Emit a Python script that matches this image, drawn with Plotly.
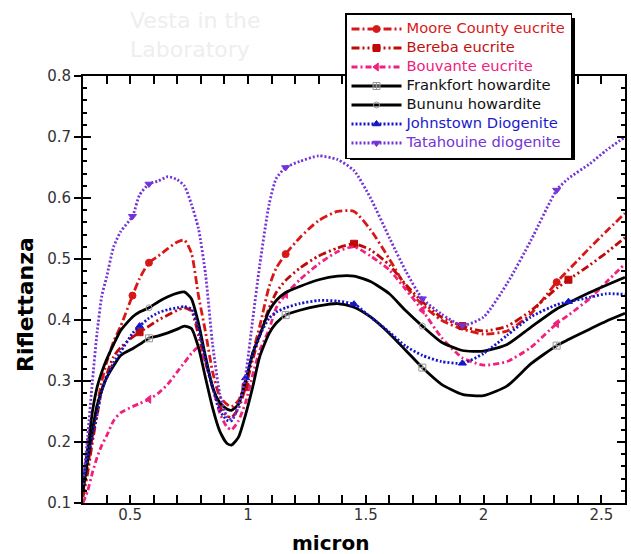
import plotly.graph_objects as go

# ---------------- data ----------------
wavelength = [0.30, 0.32, 0.34, 0.36, 0.38, 0.40, 0.43, 0.46, 0.51, 0.54, 0.58, 0.62,
              0.66, 0.70, 0.73, 0.76, 0.79, 0.82, 0.85, 0.88, 0.91, 0.93, 0.96, 0.99,
              1.02, 1.05, 1.09, 1.12, 1.16, 1.22, 1.30, 1.38, 1.45, 1.52, 1.60, 1.67,
              1.74, 1.82, 1.91, 2.00, 2.10, 2.20, 2.31, 2.36, 2.45, 2.52, 2.60]

moore_county = [0.12, 0.16, 0.21, 0.26, 0.30, 0.33, 0.365, 0.39, 0.44, 0.468, 0.494, 0.505,
                0.517, 0.528, 0.531, 0.51, 0.44, 0.38, 0.315, 0.275, 0.262, 0.258, 0.268, 0.30,
                0.345, 0.39, 0.455, 0.485, 0.508, 0.535, 0.563, 0.578, 0.578, 0.548, 0.50, 0.455,
                0.425, 0.40, 0.385, 0.377, 0.382, 0.41, 0.462, 0.482, 0.518, 0.545, 0.575]

bereba = [0.11, 0.15, 0.20, 0.245, 0.285, 0.31, 0.34, 0.355, 0.372, 0.38, 0.39, 0.40,
          0.408, 0.416, 0.42, 0.415, 0.375, 0.33, 0.29, 0.258, 0.243, 0.24, 0.255, 0.29,
          0.335, 0.375, 0.42, 0.445, 0.465, 0.485, 0.505, 0.518, 0.525, 0.515, 0.49, 0.458,
          0.43, 0.405, 0.39, 0.382, 0.39, 0.415, 0.452, 0.466, 0.49, 0.51, 0.535]

bouvante = [0.10, 0.12, 0.15, 0.175, 0.195, 0.21, 0.235, 0.248, 0.258, 0.263, 0.27, 0.28,
            0.295, 0.315, 0.33, 0.345, 0.355, 0.33, 0.29, 0.248, 0.225, 0.22, 0.235, 0.265,
            0.31, 0.35, 0.385, 0.42, 0.442, 0.466, 0.492, 0.512, 0.52, 0.505, 0.482, 0.45,
            0.416, 0.372, 0.338, 0.326, 0.332, 0.355, 0.394, 0.408, 0.435, 0.462, 0.492]

frankfort = [0.12, 0.17, 0.22, 0.26, 0.285, 0.305, 0.325, 0.342, 0.353, 0.36, 0.37, 0.374,
             0.379, 0.385, 0.39, 0.386, 0.355, 0.305, 0.256, 0.218, 0.198, 0.195, 0.208, 0.245,
             0.29, 0.34, 0.378, 0.395, 0.408, 0.416, 0.423, 0.427, 0.421, 0.405, 0.378, 0.35,
             0.322, 0.295, 0.278, 0.276, 0.292, 0.328, 0.358, 0.368, 0.385, 0.398, 0.411]

bununu = [0.13, 0.19, 0.25, 0.29, 0.315, 0.335, 0.36, 0.383, 0.405, 0.413, 0.42, 0.43,
          0.438, 0.444, 0.446, 0.435, 0.395, 0.34, 0.29, 0.265, 0.254, 0.252, 0.262, 0.30,
          0.345, 0.375, 0.415, 0.432, 0.445, 0.455, 0.466, 0.472, 0.472, 0.463, 0.443, 0.415,
          0.39, 0.364, 0.35, 0.349, 0.36, 0.388, 0.418, 0.428, 0.445, 0.457, 0.47]

johnstown = [0.14, 0.175, 0.21, 0.245, 0.285, 0.305, 0.33, 0.348, 0.378, 0.39, 0.403, 0.412,
             0.417, 0.42, 0.422, 0.418, 0.385, 0.335, 0.29, 0.252, 0.236, 0.235, 0.26, 0.305,
             0.345, 0.375, 0.403, 0.413, 0.42, 0.427, 0.432, 0.431, 0.426, 0.405, 0.38, 0.357,
             0.342, 0.332, 0.329, 0.345, 0.375, 0.405, 0.425, 0.43, 0.437, 0.443, 0.442]

tatahouine = [0.13, 0.21, 0.30, 0.38, 0.44, 0.47, 0.52, 0.545, 0.57, 0.605, 0.623, 0.628,
              0.635, 0.63, 0.62, 0.59, 0.55, 0.475, 0.36, 0.28, 0.242, 0.237, 0.258, 0.31,
              0.40, 0.49, 0.59, 0.632, 0.65, 0.66, 0.669, 0.663, 0.645, 0.60, 0.535, 0.48,
              0.435, 0.41, 0.391, 0.405, 0.46, 0.53, 0.613, 0.632, 0.656, 0.678, 0.70]

# wavelengths at which each curve shows a marker symbol
moore_marks = [0.51, 0.58, 1.16, 2.31]
bereba_marks = [0.54, 0.99, 1.45, 1.91, 2.36]
bouvante_marks = [0.58, 1.16, 1.74, 2.31]
frankfort_marks = [0.58, 1.16, 1.74, 2.31]
bununu_marks = [0.58, 1.74]
johnstown_marks = [0.54, 0.99, 1.45, 1.91, 2.36]
tatahouine_marks = [0.51, 0.58, 1.16, 1.74, 1.91, 2.31]

series_names = ["Moore County eucrite", "Bereba eucrite", "Bouvante eucrite",
                "Frankfort howardite", "Bununu howardite", "Johnstown Diogenite",
                "Tatahouine diogenite"]

# ---------------- styles ----------------
styles = [
    dict(vals=moore_county, marks=moore_marks, color="#d81818", dash="8px,3px,2px,3px",
         symbol="circle", msize=7, mcolor="#d81818", text="#d81818"),
    dict(vals=bereba, marks=bereba_marks, color="#c00a0a", dash="8px,3px,2px,3px,2px,3px",
         symbol="square", msize=7, mcolor="#c00a0a", text="#c01010"),
    dict(vals=bouvante, marks=bouvante_marks, color="#f0207f", dash="6px,3px,2px,3px",
         symbol="triangle-left", msize=7, mcolor="#f0207f", text="#f0207f"),
    dict(vals=frankfort, marks=frankfort_marks, color="#000000", dash="solid",
         symbol="square-cross-open", msize=7, mcolor="#999999", text="#111111"),
    dict(vals=bununu, marks=bununu_marks, color="#000000", dash="solid",
         symbol="circle-open", msize=6, mcolor="#999999", text="#111111"),
    dict(vals=johnstown, marks=johnstown_marks, color="#1515c8", dash="2px,2px",
         symbol="triangle-up", msize=7, mcolor="#1515c8", text="#1a1acc"),
    dict(vals=tatahouine, marks=tatahouine_marks, color="#7333d6", dash="2px,2px",
         symbol="triangle-down", msize=7, mcolor="#7333d6", text="#7333d6"),
]

fig = go.Figure()
for name, st in zip(series_names, styles):
    sel = [wavelength.index(w) for w in st["marks"]]
    fig.add_trace(go.Scatter(
        x=wavelength, y=st["vals"], mode="lines+markers",
        name=f"<span style='color:{st['text']};font-size:14.7px'>{name}</span>",
        line=dict(color=st["color"], width=2.8, dash=st["dash"], shape="spline", smoothing=0.6),
        marker=dict(symbol=st["symbol"], size=st["msize"], color=st["mcolor"],
                    line=dict(color=st["mcolor"], width=1)),
        selectedpoints=sel,
        selected=dict(marker=dict(opacity=1)),
        unselected=dict(marker=dict(opacity=0)),
        hoverinfo="skip",
    ))

# dummy trace carrying the overlay y-axis (outside tick halves + labels)
fig.add_trace(go.Scatter(x=[None], y=[None], yaxis="y2", showlegend=False, hoverinfo="skip"))

L, R, T, B = 83, 6, 76, 51
W, H = 631, 554
pw, ph = W - L - R, H - T - B

def px(xp):
    return (xp - L) / pw

def py(yp):
    return (H - B - yp) / ph

tickfont = dict(family="DejaVu Sans", size=15, color="#333333")

fig.update_layout(
    width=W, height=H,
    margin=dict(l=L, r=R, t=T, b=B, autoexpand=False),
    paper_bgcolor="white", plot_bgcolor="white",
    showlegend=True,
    xaxis=dict(range=[0.3, 2.6], tickmode="linear", tick0=0.5, dtick=0.5,
               ticks="inside", ticklen=8, tickwidth=2, tickcolor="black",
               showline=True, linewidth=2, linecolor="black", mirror="allticks",
               minor=dict(dtick=0.1, ticks="inside", ticklen=4, tickwidth=1.5, tickcolor="black"),
               showgrid=False, zeroline=False, tickfont=tickfont, ticklabelstandoff=-3),
    yaxis=dict(range=[0.1, 0.8], tickmode="linear", tick0=0.1, dtick=0.1,
               ticks="inside", ticklen=8, tickwidth=2, tickcolor="black",
               showline=True, linewidth=2, linecolor="black", mirror="allticks",
               minor=dict(dtick=0.02, ticks="inside", ticklen=4, tickwidth=1.5, tickcolor="black"),
               showticklabels=False, showgrid=False, zeroline=False),
    yaxis2=dict(range=[0.1, 0.8], overlaying="y", side="left", tickmode="linear",
                tick0=0.1, dtick=0.1, ticks="outside", ticklen=8, tickwidth=2,
                tickcolor="black", showline=False, showgrid=False, zeroline=False,
                tickfont=tickfont),
    legend=dict(x=px(345), y=py(13), xanchor="left", yanchor="top",
                bgcolor="white", bordercolor="black", borderwidth=1.5,
                font=dict(family="DejaVu Sans", size=11, color="black"),
                itemwidth=50, tracegroupgap=0),
    shapes=[dict(type="rect", xref="paper", yref="paper",
                 x0=px(350), x1=px(575), y0=py(160), y1=py(18),
                 fillcolor="black", line=dict(width=0), layer="above")],
    annotations=[
        dict(text="<b>Riflettanza</b>", xref="paper", yref="paper", x=px(25), y=py(305),
             xanchor="center", yanchor="middle",
             textangle=-90, showarrow=False, font=dict(family="DejaVu Sans", size=22, color="black")),
        dict(text="<b>micron</b>", xref="paper", yref="paper", x=px(330), y=py(543),
             xanchor="center", yanchor="middle",
             showarrow=False, font=dict(family="DejaVu Sans", size=20, color="black")),
        dict(text="Vesta in the<br>Laboratory", xref="paper", yref="paper", x=px(128), y=py(6),
             xanchor="left", yanchor="top", align="left", showarrow=False,
             font=dict(family="DejaVu Sans", size=22, color="#eeeeee")),
    ],
)

fig.write_html("out.html", config={"displayModeBar": False},
               post_script="document.body.style.margin='0';document.body.style.overflow='hidden';")
